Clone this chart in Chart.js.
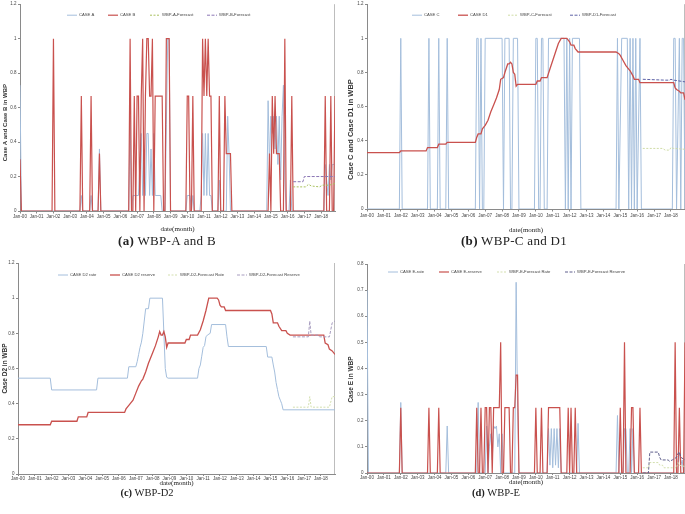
<!DOCTYPE html>
<html>
<head>
<meta charset="utf-8">
<script src="https://cdn.jsdelivr.net/npm/chart.js@4"></script>
<style>
  html, body { margin: 0; padding: 0; background: #fff; }
  #page { position: relative; width: 685px; height: 514px; overflow: hidden; }
  canvas { position: absolute; }
  .cap { position: absolute; font-family: 'Liberation Serif', serif; color: #222; white-space: nowrap; transform: translate(-50%, -50%); }
</style>
</head>
<body>
<div id="page">
  <canvas id="panelA" width="342" height="236" style="left:0;top:0"></canvas>
  <canvas id="panelB" width="343" height="236" style="left:342px;top:0"></canvas>
  <canvas id="panelC" width="342" height="236" style="left:0;top:255px"></canvas>
  <canvas id="panelD" width="343" height="236" style="left:342px;top:255px"></canvas>
  <div class="cap" style="left:167px;top:241px;font-size:13px;letter-spacing:0.3px"><b>(a)</b> WBP-A and B</div>
  <div class="cap" style="left:514px;top:241px;font-size:13px;letter-spacing:0.3px"><b>(b)</b> WBP-C and D1</div>
  <div class="cap" style="left:147px;top:492px;font-size:10.5px"><b>(c)</b> WBP-D2</div>
  <div class="cap" style="left:496px;top:492px;font-size:10.5px"><b>(d)</b> WBP-E</div>
</div>
<script>
// month index: 0 = Jan-00
const monthTicks = ['Jan-00', 'Jan-01', 'Jan-02', 'Jan-03', 'Jan-04', 'Jan-05', 'Jan-06', 'Jan-07', 'Jan-08', 'Jan-09',
  'Jan-10', 'Jan-11', 'Jan-12', 'Jan-13', 'Jan-14', 'Jan-15', 'Jan-16', 'Jan-17', 'Jan-18']
const yTicksUnit = ['0', '0.2', '0.4', '0.6', '0.8', '1', '1.2']
const yTicksE = ['0', '0.1', '0.2', '0.3', '0.4', '0.5', '0.6', '0.7', '0.8']

// (a) [month, value]
const caseA = [[0, 0.73], [1, 0], [43, 0], [44, 0.09], [45, 0], [50, 0], [51, 0.09], [52, 0], [56, 0], [57, 0.36], [58, 0],
  [78, 0], [79, 0.55], [80, 0], [81, 0.09], [85, 0.09], [86, 0.27], [87, 0.45], [88, 0.09], [89, 0.36], [90, 0.09], [91, 0.45],
  [92, 0.45], [93, 0.09], [94, 0.36], [95, 0.09], [96, 0.45], [97, 0.09], [101, 0.09], [102, 0], [104, 0], [105, 0.5], [106, 1],
  [107, 1], [108, 0], [119, 0], [120, 0.09], [122, 0.09], [123, 0], [124, 0.09], [125, 0], [129, 0], [130, 0.09], [131, 0.45],
  [132, 0.09], [133, 0.45], [134, 0.09], [135, 0.45], [136, 0.09], [137, 0.09], [138, 0], [142, 0], [143, 0.18], [144, 0],
  [148, 0], [149, 0.55], [150, 0.33], [151, 0], [177, 0], [178, 0.64], [179, 0.27], [180, 0.55], [181, 0.45], [182, 0.55],
  [183, 0.36], [184, 0.55], [185, 0.27], [186, 0.55], [187, 0.18], [188, 0.55], [189, 0.73], [190, 0.18], [191, 0], [193, 0],
  [194, 0.18], [195, 0], [218, 0], [219, 0.27], [220, 0.18], [221, 0.09], [222, 0.27], [223, 0.18], [224, 0.27], [226, 0.27]]
const caseB = [[0, 0.3], [1, 0], [23, 0], [24, 1], [25, 0], [43, 0], [44, 0.667], [45, 0], [50, 0], [51, 0.667], [52, 0],
  [56, 0], [57, 0.333], [58, 0], [78, 0], [79, 1], [80, 0], [81, 0], [82, 0.667], [83, 0], [84, 0.667], [85, 0.667], [86, 0],
  [87, 0.667], [88, 1], [89, 0], [90, 0.667], [91, 1], [92, 1], [93, 0.667], [94, 0.667], [95, 1], [96, 0], [97, 0.667],
  [102, 0.667], [103, 0], [104, 0], [105, 1], [107, 1], [108, 0], [119, 0], [120, 0.667], [121, 0.667], [122, 0], [123, 0],
  [124, 0.667], [125, 0], [130, 0], [131, 1], [132, 0.667], [133, 1], [134, 0.667], [135, 1], [136, 0.667], [137, 0.667],
  [138, 0], [142, 0], [143, 0.667], [144, 0], [146, 0], [147, 0.667], [148, 0.333], [151, 0.333], [152, 0], [178, 0],
  [179, 0.333], [180, 0], [181, 0.667], [182, 0.333], [183, 0.667], [184, 0.333], [186, 0.333], [187, 0], [189, 0], [190, 1],
  [191, 0], [194, 0], [195, 0.667], [196, 0], [218, 0], [219, 0.667], [220, 0], [222, 0], [223, 0.667], [224, 0], [225, 0],
  [226, 0.667]]
const forecastA = [[196, 0.14], [205, 0.14], [207, 0.155], [209, 0.145], [215, 0.14], [217, 0.15], [222, 0.15], [226, 0.16]]
const forecastB = [[196, 0.17], [203, 0.17], [204, 0.2], [226, 0.2]]

// (b)
const caseC = [[0, 0], [23, 0], [24, 1], [25, 0], [43, 0], [44, 1], [45, 0], [50, 0], [51, 1], [52, 0], [56, 0], [57, 1],
  [58, 0], [77, 0], [78, 1], [79, 1], [80, 0], [81, 1], [82, 0], [83, 0], [84, 1], [96, 1], [97, 0], [98, 1], [101, 1],
  [102, 0], [103, 0], [104, 1], [107, 1], [108, 0], [119, 0], [120, 1], [121, 1], [122, 0], [123, 0], [124, 1], [125, 1],
  [126, 0], [128, 0], [129, 1], [140, 1], [141, 0], [142, 1], [143, 0], [144, 1], [145, 0], [146, 1], [151, 1], [152, 0],
  [177, 0], [178, 1], [179, 0], [181, 1], [185, 1], [186, 0], [187, 1], [188, 0], [189, 1], [190, 0], [191, 1], [192, 0],
  [194, 1], [195, 0], [217, 0], [218, 1], [219, 1], [220, 0], [222, 1], [223, 0], [224, 1], [225, 1], [226, 0]]
const caseD1 = [[0, 0.33], [23, 0.33], [24, 0.34], [42, 0.34], [43, 0.36], [50, 0.36], [51, 0.38], [56, 0.38], [57, 0.39],
  [77, 0.39], [78, 0.42], [79, 0.44], [81, 0.44], [82, 0.47], [84, 0.49], [86, 0.52], [88, 0.57], [90, 0.61], [92, 0.65],
  [94, 0.7], [95, 0.76], [97, 0.77], [98, 0.8], [100, 0.85], [101, 0.85], [102, 0.86], [103, 0.85], [104, 0.8], [105, 0.79],
  [106, 0.72], [107, 0.73], [120, 0.73], [121, 0.75], [123, 0.75], [124, 0.77], [128, 0.77], [130, 0.82], [132, 0.87],
  [134, 0.92], [136, 0.97], [138, 1], [142, 1], [144, 0.98], [145, 0.96], [147, 0.96], [148, 0.94], [150, 0.92], [177, 0.92],
  [179, 0.91], [180, 0.9], [182, 0.87], [184, 0.84], [186, 0.82], [187, 0.81], [189, 0.78], [190, 0.76], [193, 0.76],
  [194, 0.74], [218, 0.74], [219, 0.71], [220, 0.7], [222, 0.69], [223, 0.68], [225, 0.68], [226, 0.64]]
const forecastC = [[196, 0.355], [210, 0.355], [212, 0.345], [215, 0.345], [216, 0.36], [218, 0.355], [226, 0.35]]
const forecastD1 = [[196, 0.76], [212, 0.755], [215, 0.755], [216, 0.76], [218, 0.755], [226, 0.745]]

// (c)
const d2Rate = [[0, 0.545], [23, 0.545], [24, 0.478], [56, 0.478], [57, 0.545], [78, 0.545], [79, 0.61], [84, 0.61],
  [85, 0.64], [86, 0.68], [87, 0.72], [88, 0.75], [89, 0.8], [90, 0.87], [91, 0.94], [93, 0.94], [94, 1], [103, 1], [104, 0.8],
  [105, 0.6], [106, 0.55], [107, 0.545], [128, 0.545], [129, 0.6], [130, 0.62], [131, 0.67], [132, 0.72], [133, 0.73],
  [134, 0.78], [135, 0.79], [137, 0.8], [138, 0.85], [148, 0.85], [149, 0.78], [150, 0.725], [177, 0.725], [178, 0.665],
  [181, 0.665], [182, 0.62], [183, 0.58], [184, 0.52], [185, 0.48], [186, 0.44], [187, 0.42], [188, 0.4], [189, 0.365],
  [226, 0.365]]
const d2Reserve = [[0, 0.28], [23, 0.28], [24, 0.3], [42, 0.3], [43, 0.325], [49, 0.325], [50, 0.35], [76, 0.35], [77, 0.37],
  [79, 0.39], [80, 0.4], [82, 0.42], [84, 0.46], [86, 0.5], [88, 0.53], [89, 0.54], [91, 0.58], [93, 0.63], [94, 0.65],
  [96, 0.69], [98, 0.73], [100, 0.78], [101, 0.81], [102, 0.79], [103, 0.79], [104, 0.81], [105, 0.78], [106, 0.72],
  [107, 0.745], [119, 0.745], [120, 0.765], [122, 0.765], [123, 0.79], [128, 0.79], [130, 0.82], [132, 0.87], [134, 0.93],
  [136, 1], [142, 1], [143, 0.99], [144, 0.96], [145, 0.95], [147, 0.95], [148, 0.93], [180, 0.93], [181, 0.91], [182, 0.86],
  [185, 0.86], [186, 0.84], [188, 0.815], [191, 0.815], [192, 0.8], [194, 0.79], [218, 0.79], [219, 0.745], [221, 0.735],
  [222, 0.71], [224, 0.7], [226, 0.68]]
const d2ForecastRate = [[196, 0.38], [207, 0.38], [208, 0.44], [209, 0.38], [222, 0.38], [224, 0.44], [226, 0.44]]
const d2ForecastReserve = [[196, 0.78], [207, 0.78], [208, 0.87], [209, 0.79], [214, 0.79], [215, 0.78], [222, 0.78],
  [224, 0.86], [226, 0.87]]

// (d)
const eRate = [[0, 0.7], [1, 0], [23, 0], [24, 0.27], [25, 0], [56, 0], [57, 0.18], [58, 0], [78, 0], [79, 0.27], [80, 0],
  [84, 0], [85, 0.18], [86, 0], [87, 0.1], [88, 0.15], [89, 0.05], [90, 0.18], [91, 0.17], [92, 0.18], [93, 0.1], [94, 0.15],
  [95, 0], [96, 0.15], [97, 0], [105, 0], [106, 0.73], [107, 0.25], [108, 0], [128, 0], [129, 0.17], [130, 0.03], [131, 0.17],
  [132, 0.02], [133, 0.17], [134, 0.03], [135, 0.17], [136, 0.02], [137, 0.17], [138, 0], [149, 0], [150, 0.19], [151, 0],
  [177, 0], [178, 0.22], [179, 0], [182, 0], [183, 0.17], [184, 0.17], [185, 0], [186, 0], [187, 0.17], [188, 0], [189, 0.17],
  [190, 0], [220, 0], [221, 0.05], [222, 0.08], [223, 0.03], [224, 0.05], [225, 0], [226, 0]]
const eReserve = [[0, 0], [23, 0], [24, 0.25], [25, 0], [43, 0], [44, 0.25], [45, 0], [50, 0], [51, 0.25], [52, 0], [77, 0],
  [78, 0.25], [79, 0], [80, 0], [81, 0.25], [82, 0], [83, 0], [84, 0.25], [85, 0.25], [86, 0], [87, 0.25], [88, 0.25], [89, 0],
  [90, 0.25], [94, 0.25], [95, 0.5], [96, 0], [97, 0], [98, 0.25], [101, 0.25], [102, 0], [103, 0], [104, 0.25], [105, 0.25],
  [106, 0.375], [107, 0.375], [108, 0], [119, 0], [120, 0.25], [121, 0], [123, 0], [124, 0.25], [125, 0], [128, 0],
  [129, 0.25], [137, 0.25], [138, 0], [142, 0], [143, 0.25], [144, 0], [145, 0.25], [146, 0], [147, 0], [148, 0.25], [149, 0],
  [179, 0], [180, 0.25], [181, 0], [182, 0], [183, 0.5], [184, 0], [187, 0], [188, 0.25], [189, 0.25], [190, 0], [193, 0],
  [194, 0.25], [195, 0], [218, 0], [219, 0.5], [220, 0], [221, 0], [222, 0.25], [223, 0], [225, 0], [226, 0.5]]
const eForecastRate = [[196, 0.02], [200, 0.02], [201, 0.04], [207, 0.04], [208, 0.03], [210, 0.03], [211, 0.02],
  [220, 0.02], [221, 0.04], [222, 0.03], [226, 0.025]]
const eForecastReserve = [[196, 0], [200, 0], [201, 0.08], [207, 0.08], [208, 0.06], [209, 0.05], [214, 0.05],
  [215, 0.045], [217, 0.05], [220, 0.06], [221, 0.075], [222, 0.08], [223, 0.06], [226, 0.05]]

const BLUE = '#a4bedc'
const RED = '#c9514e'
const AXIS = '#8a8a8a'
const TICK_FONT = { family: 'Liberation Sans', size: 4.5 }

// legend drawn inside the plot area, like the Excel original
const insideLegend = {
  id: 'insideLegend',
  afterDatasetsDraw(chart, args, opts) {
    const { ctx, chartArea } = chart
    ctx.save()
    ctx.font = '4.2px "Liberation Sans"'
    ctx.textBaseline = 'middle'
    chart.data.datasets.forEach((ds, i) => {
      const x = chartArea.left + opts.xs[i]
      const y = chartArea.top + opts.y
      ctx.strokeStyle = ds.borderColor
      ctx.lineWidth = ds.borderWidth
      ctx.setLineDash(ds.borderDash || [])
      ctx.beginPath()
      ctx.moveTo(x, y)
      ctx.lineTo(x + 10, y)
      ctx.stroke()
      ctx.setLineDash([])
      ctx.fillStyle = '#444'
      ctx.fillText(ds.label, x + 12, y)
    })
    ctx.restore()
  },
}

const rightFrame = {
  id: 'rightFrame',
  beforeDatasetsDraw(chart) {
    const { ctx, chartArea } = chart
    ctx.save()
    ctx.strokeStyle = '#bdbdbd'
    ctx.lineWidth = 1
    ctx.beginPath()
    ctx.moveTo(chartArea.right - 0.5, chartArea.top)
    ctx.lineTo(chartArea.right - 0.5, chartArea.bottom)
    ctx.stroke()
    ctx.restore()
  },
}

// rotated y title, not always centred on the plot in the original
const sideTitle = {
  id: 'sideTitle',
  afterDraw(chart, args, o) {
    const { ctx, chartArea } = chart
    ctx.save()
    ctx.font = `bold ${o.size}px "Liberation Sans"`
    ctx.fillStyle = '#333'
    ctx.textAlign = 'center'
    ctx.textBaseline = 'middle'
    ctx.translate(o.x, (chartArea.top + chartArea.bottom) / 2 + o.shift)
    ctx.rotate(-Math.PI / 2)
    ctx.fillText(o.text, 0, 0)
    ctx.restore()
  },
}

function line(label, data, color, width, dash, order) {
  return {
    label,
    data: data.map(([x, y]) => ({ x, y })),
    borderColor: color,
    borderWidth: width,
    borderDash: dash,
    pointRadius: 0,
    tension: 0,
    order,
  }
}

function makePanel(id, p) {
  return new Chart(document.getElementById(id), {
    type: 'line',
    data: { datasets: p.datasets },
    plugins: [insideLegend, rightFrame, sideTitle],
    options: {
      responsive: false,
      animation: false,
      events: [],
      layout: { padding: p.padding },
      plugins: {
        legend: { display: false },
        tooltip: { enabled: false },
        insideLegend: p.legend,
        sideTitle: p.yTitle,
      },
      scales: {
        x: {
          type: 'linear',
          min: 0,
          max: 226,
          afterBuildTicks: (axis) => {
            axis.ticks = axis.ticks.filter((t) => t.value % 12 === 0)
          },
          afterFit: (axis) => {
            axis.height = p.xHeight
          },
          ticks: {
            stepSize: 12,
            autoSkip: false,
            maxRotation: 0,
            padding: p.xTickPad,
            font: TICK_FONT,
            color: '#444',
            callback: (v) => monthTicks[v / 12],
          },
          grid: { drawOnChartArea: false, tickLength: p.xTickLen, color: AXIS },
          border: { color: AXIS },
          title: {
            display: true,
            text: 'date(month)',
            font: { family: 'Liberation Serif', size: 7 },
            color: '#222',
            padding: { top: 0, bottom: p.xTitlePad },
          },
        },
        y: {
          min: 0,
          max: p.yMax,
          afterFit: (axis) => {
            axis.width = p.yWidth
          },
          ticks: {
            stepSize: p.yStep,
            padding: 1.5,
            font: TICK_FONT,
            color: '#444',
            callback: (v, i) => p.yLabels[i],
          },
          grid: { drawOnChartArea: false, tickLength: 2, color: AXIS },
          border: { color: AXIS },
        },
      },
    },
  })
}

makePanel('panelA', {
  datasets: [
    line('CASE A', caseA, BLUE, 1, [], 2),
    line('CASE B', caseB, RED, 1.2, [], 1),
    line('WBP-A-Forecast', forecastA, '#a9c05f', 1, [2, 1.5], 0),
    line('WBP-B-Forecast', forecastB, '#8b76b4', 1, [3, 1.5], 0),
  ],
  legend: { xs: [47, 88, 130, 187], y: 11 },
  padding: { left: 0, top: 3, right: 7, bottom: 0 },
  yWidth: 20, xHeight: 25, xTickPad: 1, xTickLen: 2.5, xTitlePad: 2.8,
  yMax: 1.2, yStep: 0.2, yLabels: yTicksUnit,
  yTitle: { text: 'Case A and Case B in WBP', size: 6, x: 5, shift: 15 },
})

makePanel('panelB', {
  datasets: [
    line('CASE C', caseC, BLUE, 1, [], 2),
    line('CASE D1', caseD1, RED, 1.3, [], 1),
    line('WBP-C-Forecast', forecastC, '#cfdca6', 1, [2, 1.5], 0),
    line('WBP-D1-Forecast', forecastD1, '#5d62a6', 1, [3, 1.5], 0),
  ],
  legend: { xs: [45, 91, 141, 203], y: 11 },
  padding: { left: 0, top: 4, right: 0, bottom: 0 },
  yWidth: 25, xHeight: 27, xTickPad: 1.3, xTickLen: 2.5, xTitlePad: 1.8,
  yMax: 1.2, yStep: 0.2, yLabels: yTicksUnit,
  yTitle: { text: 'Case C and Case D1 in WBP', size: 7.5, x: 9, shift: 23 },
})

makePanel('panelC', {
  datasets: [
    line('CASE D2 rate', d2Rate, BLUE, 1, [], 2),
    line('CASE D2 reserve', d2Reserve, RED, 1.3, [], 1),
    line('WBP-D2-Forecast Rate', d2ForecastRate, '#d3dfae', 1, [2, 1.5], 0),
    line('WBP-D2-Forecast Reserve', d2ForecastReserve, '#a79cbf', 1, [3, 1.5], 0),
  ],
  legend: { xs: [40, 92, 150, 219], y: 12 },
  padding: { left: 0, top: 8, right: 7, bottom: 0 },
  yWidth: 18, xHeight: 17, xTickPad: 0, xTickLen: 2, xTitlePad: 3.8,
  yMax: 1.2, yStep: 0.2, yLabels: yTicksUnit,
  yTitle: { text: 'Case D2 in WBP', size: 6.5, x: 5.5, shift: 0 },
})

makePanel('panelD', {
  datasets: [
    line('CASE E-rate', eRate, BLUE, 1, [], 2),
    line('CASE E-reserve', eReserve, RED, 1.2, [], 1),
    line('WBP-E-Forecast Rate', eForecastRate, '#d3dfae', 1, [2, 1.5], 0),
    line('WBP-E-Forecast Reserve', eForecastReserve, '#5f5f8c', 1, [3, 1.5], 0),
  ],
  legend: { xs: [21, 72, 130, 198], y: 8 },
  padding: { left: 0, top: 9, right: 0, bottom: 0 },
  yWidth: 25, xHeight: 18, xTickPad: 0, xTickLen: 2, xTitlePad: 4.3,
  yMax: 0.8, yStep: 0.1, yLabels: yTicksE,
  yTitle: { text: 'Case E in WBP', size: 6.5, x: 9.5, shift: 11 },
})
</script>
</body>
</html>
